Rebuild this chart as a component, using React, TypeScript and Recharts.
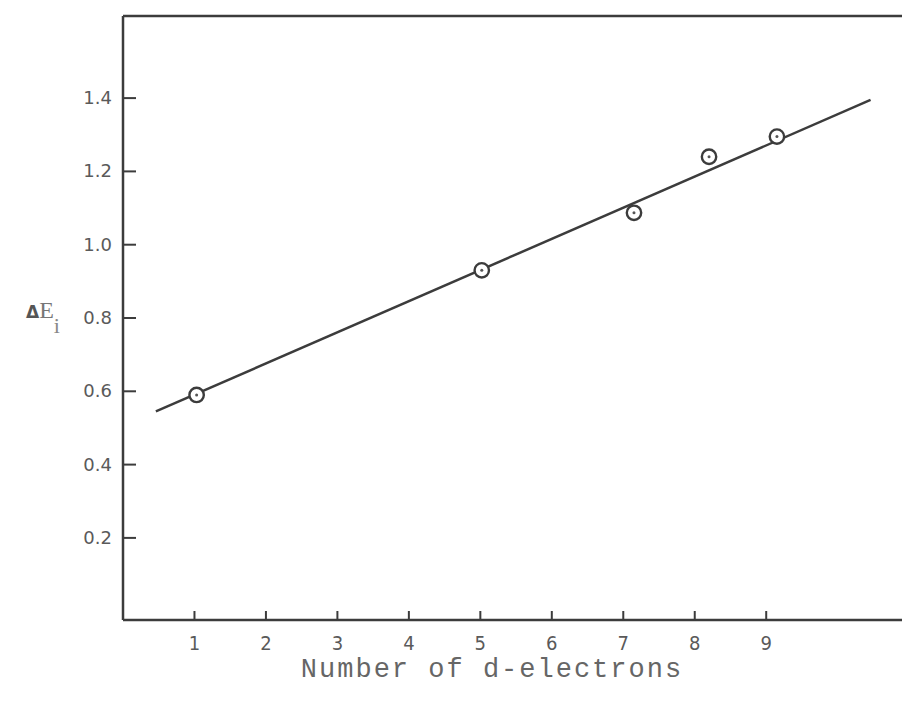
import { ComposedChart, Line, Scatter, XAxis, YAxis, ReferenceLine } from "recharts";

// values
const dElectrons = [1.03, 5.02, 7.15, 8.2, 9.15];
const deltaE = [0.59, 0.93, 1.087, 1.24, 1.295];
const fitX = [0.46, 10.46];
const fitY = [0.545, 1.395];
const xTicks = [1, 2, 3, 4, 5, 6, 7, 8, 9];
const yTicks = [0.2, 0.4, 0.6, 0.8, 1.0, 1.2, 1.4];
const xDomain: [number, number] = [0, 10.9];
const yDomain: [number, number] = [-0.024, 1.624];

const points = dElectrons.map((x, i) => ({ x, y: deltaE[i] }));
const fitLine = fitX.map((x, i) => ({ x, y: fitY[i] }));

const W = 902;
const H = 705;
const Y_AXIS_W = 123;
const X_AXIS_H = 85;
const AXIS_X = Y_AXIS_W; // left margin is 0
const AXIS_Y = H - X_AXIS_H; // bottom margin is 0

const ink = "#3c3c3c";
const labelInk = "#5a5a5a";

// ticks point into the plot, as in the original figure
function YTick(props: any) {
  const { y, payload } = props;
  return (
    <g>
      <line x1={AXIS_X} y1={y} x2={AXIS_X + 13} y2={y} stroke={ink} strokeWidth={2} />
      <text
        x={AXIS_X - 11}
        y={y}
        dy={6}
        textAnchor="end"
        fontFamily="DejaVu Sans, sans-serif"
        fontSize={18}
        fill={labelInk}
      >
        {payload.value.toFixed(1)}
      </text>
    </g>
  );
}

function XTick(props: any) {
  const { x, payload } = props;
  return (
    <g>
      <line x1={x} y1={AXIS_Y + 1} x2={x} y2={AXIS_Y - 9} stroke={ink} strokeWidth={2} />
      <text
        x={x}
        y={AXIS_Y + 30}
        textAnchor="middle"
        fontFamily="'Liberation Sans Narrow', 'DejaVu Sans Condensed', sans-serif"
        fontSize={20}
        fill={labelInk}
      >
        {payload.value}
      </text>
    </g>
  );
}

function Marker(props: any) {
  const { cx, cy } = props;
  return (
    <g>
      <circle cx={cx} cy={cy} r={7.2} fill="#fff" stroke={ink} strokeWidth={2.4} />
      <circle cx={cx} cy={cy} r={1.5} fill="#555" />
    </g>
  );
}

export default function App() {
  return (
    <div style={{ position: "absolute", left: 0, top: 0, background: "#fff" }}>
      <ComposedChart
        width={W}
        height={H}
        margin={{ top: 16, right: 0, bottom: 0, left: 0 }}
      >
        <XAxis
          type="number"
          dataKey="x"
          domain={xDomain}
          ticks={xTicks}
          height={X_AXIS_H}
          tickSize={0}
          tickLine={false}
          tick={<XTick />}
          axisLine={{ stroke: ink, strokeWidth: 2.5 }}
          label={{
            content: () => (
              <text
                x={492}
                y={677}
                textAnchor="middle"
                fontFamily="'Liberation Mono', monospace"
                fontSize={27}
                letterSpacing={2}
                fill="#666"
              >
                Number of d-electrons
              </text>
            ),
          }}
        />
        <YAxis
          type="number"
          dataKey="y"
          domain={yDomain}
          ticks={yTicks}
          width={Y_AXIS_W}
          tickSize={0}
          tickLine={false}
          tick={<YTick />}
          axisLine={{ stroke: ink, strokeWidth: 2.5 }}
          label={{
            content: () => (
              <text fill="#555">
                <tspan x={26} y={318} fontFamily="DejaVu Sans, sans-serif" fontWeight="bold" fontSize={17}>
                  Δ
                </tspan>
                <tspan fontFamily="'Liberation Serif', serif" fontSize={24} fill="#777">
                  E
                </tspan>
                <tspan dy={15} fontFamily="'Liberation Serif', serif" fontSize={22} fill="#888">
                  i
                </tspan>
              </text>
            ),
          }}
        />
        <ReferenceLine y={yDomain[1]} stroke={ink} strokeWidth={2.5} />
        <Line
          data={fitLine}
          dataKey="y"
          type="linear"
          stroke={ink}
          strokeWidth={2.5}
          dot={false}
          activeDot={false}
          isAnimationActive={false}
        />
        <Scatter data={points} dataKey="y" shape={<Marker />} isAnimationActive={false} />
      </ComposedChart>
    </div>
  );
}
